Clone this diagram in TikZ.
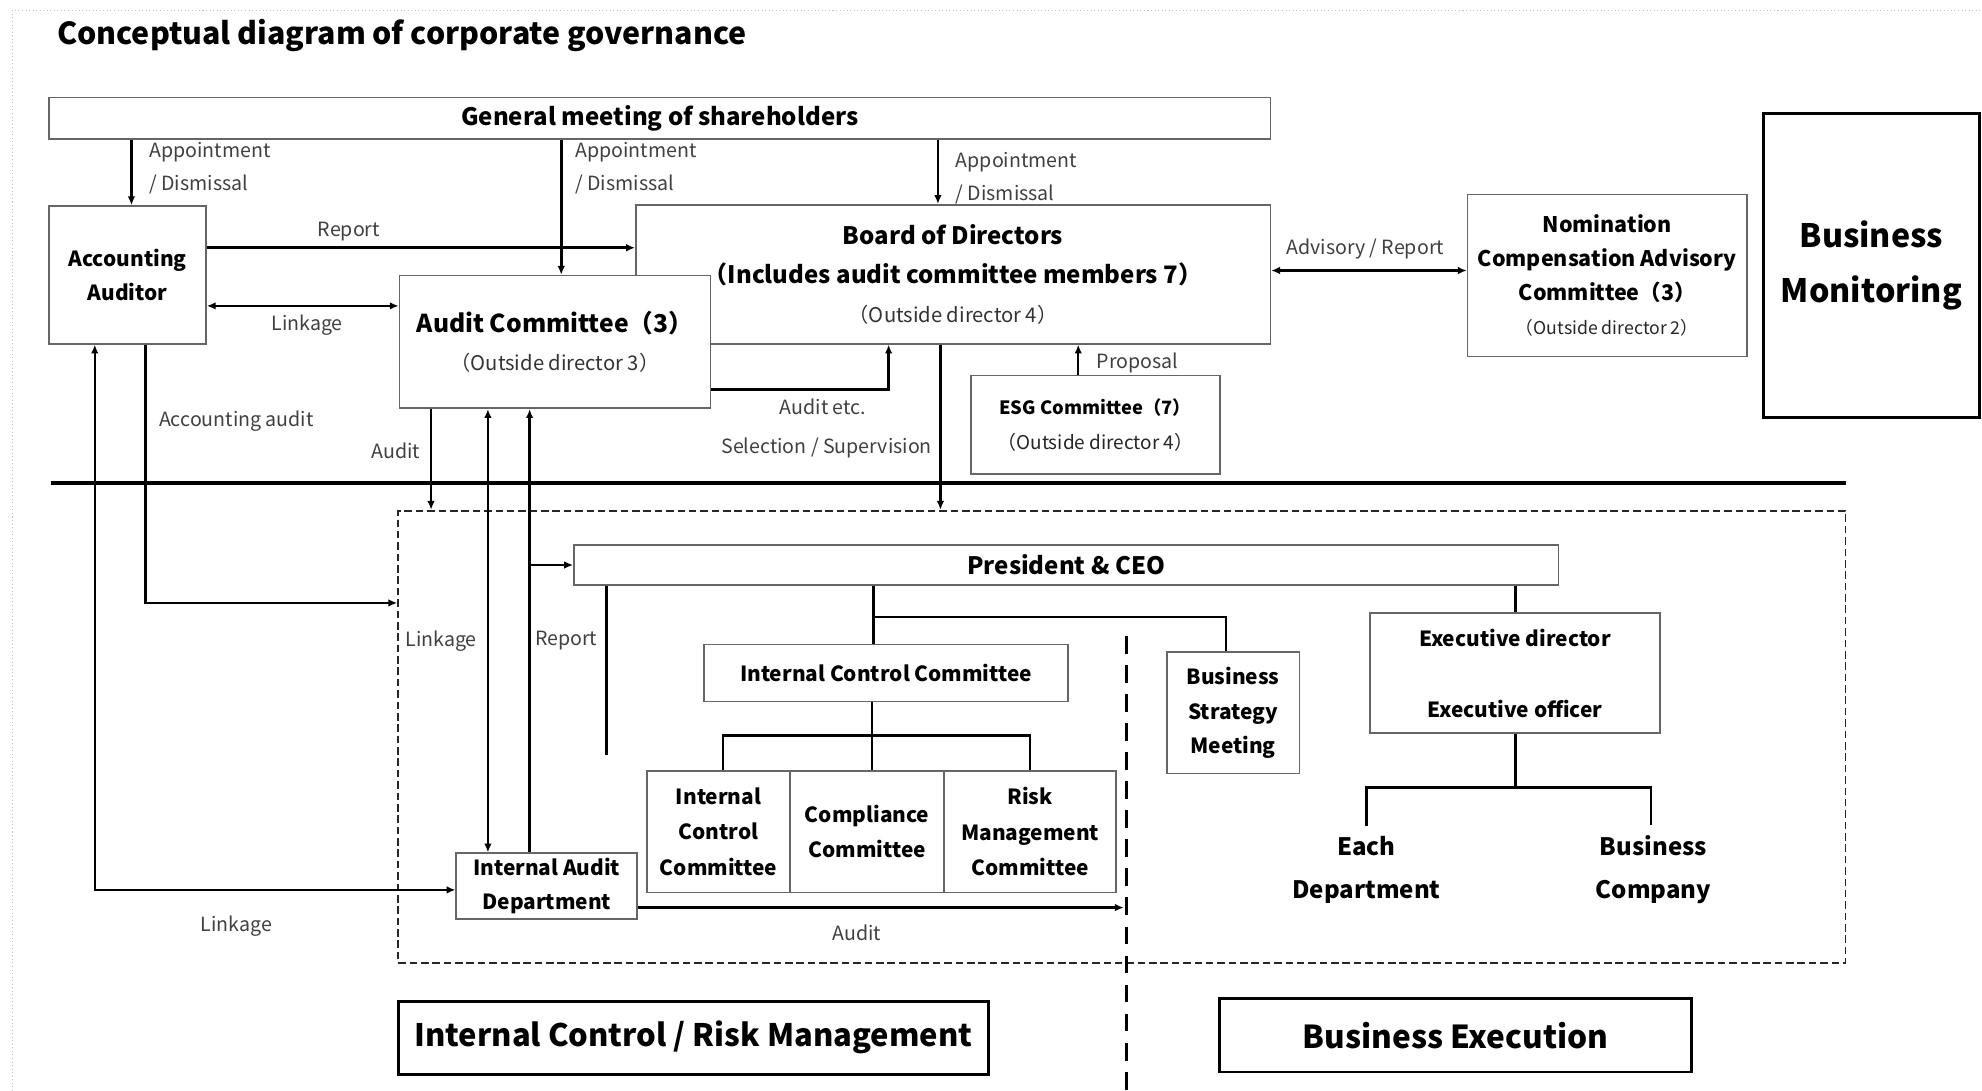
\documentclass[tikz,border=0pt]{standalone}
\usepackage{fontspec}
\setmainfont{Noto Sans CJK JP}
\usetikzlibrary{arrows.meta}
\newcommand{\fs}[2]{\fontsize{#1}{#2}\selectfont}
\tikzset{
  box/.style={draw=black!60, line width=1.3pt, fill=white, inner sep=0pt, align=center, text=black},
  bigbox/.style={draw=black, line width=2.2pt, fill=white, inner sep=0pt, align=center, text=black},
  lbl/.style={text=black!75, font=\fs{15.5}{20}, inner sep=0pt},
  conn/.style={line width=2pt},
  arr/.style={conn, -{Latex[length=7pt,width=6pt]}},
  darr/.style={conn, {Latex[length=7pt,width=6pt]}-{Latex[length=7pt,width=6pt]}},
}
\begin{document}
\begin{tikzpicture}[x=1pt,y=-1pt]
\useasboundingbox (0,0) rectangle (1568,863);
\fill[white] (0,0) rectangle (1568,863);
% faint frame
\draw[black!25, dotted, line width=0.8pt] (10,863) -- (10,8) -- (1568,8);
% column/row coordinates
\foreach \v in {75,104,115,341,386,419,444,480,572,690,691,703,742,744,815,853,970,1081,1199,1306}{\coordinate (x\v) at (\v,0);}
\foreach \v in {196,214,242,308,447,477,488,582,623,704,718}{\coordinate (y\v) at (0,\v);}
% title
\node[anchor=west, font=\fs{24}{30}\bfseries, inner sep=0pt] (title) at (45,28) {Conceptual diagram of corporate governance};
% top nodes
\node[box, minimum width=966, minimum height=33, font=\fs{19}{24}\bfseries] (gm) at (522,93.5) {General meeting of shareholders};
\node[box, minimum width=124, minimum height=109, font=\fs{16.5}{27}\bfseries] (aa) at (101,217.5) {Accounting\\Auditor};
\node[box, minimum width=502, minimum height=110, font=\fs{19}{31}\bfseries] (board) at (754,217) {Board of Directors\\（Includes audit committee members 7）\\{\mdseries\fs{16}{31}\color{black!80}（Outside director 4）}};
\node[box, minimum width=246, minimum height=105, font=\fs{19.5}{30}\bfseries] (ac) at (439,270.5) {Audit Committee（3）\\{\mdseries\fs{16}{30}\color{black!80}（Outside director 3）}};
\node[box, minimum width=197, minimum height=78, font=\fs{14.5}{28}\bfseries] (esg) at (866.5,336) {ESG Committee（7）\\{\mdseries\fs{15}{28}\color{black!85}（Outside director 4）}};
\node[box, minimum width=221, minimum height=128, font=\fs{17}{27}\bfseries] (ncac) at (1271.5,218) {Nomination\\Compensation Advisory\\Committee（3）\\{\mdseries\fs{14}{27}\color{black!85}（Outside director 2）}};
\node[bigbox, minimum width=171, minimum height=240, font=\fs{25.5}{43}\bfseries] (bm) at (1480.5,210) {Business\\Monitoring};
% separator
\coordinate (sepL) at (40,382);
\coordinate (sepR) at (1460,382);
\draw[line width=3.5pt] (sepL) -- (sepR);
% dashed execution area
\node[draw=black!85, line width=1.4pt, dash pattern=on 6pt off 3pt, minimum width=1145, minimum height=358, inner sep=0pt] (dbox) at (887.5,583) {};
% inner nodes
\node[box, minimum width=779, minimum height=32, font=\fs{19}{24}\bfseries] (ceo) at (843.5,447) {President \& CEO};
\node[box, minimum width=288, minimum height=45, font=\fs{16.5}{24}\bfseries] (icc) at (701,532.5) {Internal Control Committee};
\node[box, minimum width=113, minimum height=96, font=\fs{16.5}{28}\bfseries] (c1) at (568.5,658) {Internal\\Control\\Committee};
\node[box, minimum width=122, minimum height=96, font=\fs{16.5}{28}\bfseries] (c2) at (686,658) {Compliance\\Committee};
\node[box, minimum width=136, minimum height=96, font=\fs{16.5}{28}\bfseries] (c3) at (815,658) {Risk\\Management\\Committee};
\node[box, minimum width=143, minimum height=52, font=\fs{16.5}{27}\bfseries] (iad) at (432.5,701) {Internal Audit\\Department};
\node[box, minimum width=105, minimum height=96, font=\fs{16.5}{27.5}\bfseries] (bsm) at (975.5,564) {Business\\Strategy\\Meeting};
\node[box, minimum width=229, minimum height=95, font=\fs{16.5}{56}\bfseries] (exec) at (1198.5,532.5) {Executive director\\Executive officer};
\node[inner sep=0pt, align=center, font=\fs{19}{34}\bfseries] (ed) at (1081,688) {Each\\Department};
\node[inner sep=0pt, align=center, font=\fs{19}{34}\bfseries] (bc) at (1308,688) {Business\\Company};
% dashed divider
\coordinate (dvtop) at (891,503);
\coordinate (dvbot) at (891,863);
\draw[line width=2.6pt, dash pattern=on 14pt off 9pt] (dvtop) -- (dvbot);
% bottom boxes
\node[bigbox, minimum width=467, minimum height=58, font=\fs{24.5}{30}\bfseries] (icrm) at (548.5,821) {Internal Control / Risk Management};
\node[bigbox, minimum width=373, minimum height=58, font=\fs{25}{30}\bfseries] (be) at (1151.5,819) {Business Execution};
% connectors
\draw[arr] (gm.south -| x104) -- (aa.north -| x104);
\draw[arr] (gm.south -| x444) -- (ac.north -| x444);
\draw[arr] (gm.south -| x742) -- (board.north -| x742);
\draw[arr] (aa.east |- y196) -- (board.west |- y196);
\draw[darr] (aa.east |- y242) -- (ac.west |- y242);
\draw[arr] (ac.east |- y308) -| (board.south -| x703);
\draw[arr] (board.south -| x744) -- (dbox.north -| x744);
\draw[arr] (esg.north -| x853) -- (board.south -| x853);
\draw[darr] (board.east |- y214) -- (ncac.west |- y214);
\draw[arr] (ac.south -| x341) -- (dbox.north -| x341);
\draw[darr] (ac.south -| x386) -- (iad.north -| x386);
\draw[arr] (iad.north -| x419) -- (ac.south -| x419);
\draw[arr] (x419 |- ceo.west) -- (ceo.west);
\draw[arr] (aa.south -| x115) |- (dbox.west |- y477);
\draw[darr] (aa.south -| x75) |- (iad.west |- y704);
\coordinate (ceoend) at (480,597);
\draw[conn] (ceo.south -| ceoend) -- (ceoend);
\draw[conn] (ceo.south -| x691) -- (icc.north -| x691);
\draw[conn] (x691 |- y488) -| (bsm.north -| x970);
\draw[conn] (ceo.south -| x1199) -- (exec.north -| x1199);
\draw[conn] (icc.south -| x690) -- (c2.north -| x690);
\draw[conn] (c1.north -| x572) |- (x815 |- y582) -- (c3.north -| x815);
\draw[arr] (iad.east |- y718) -- ([xshift=-2pt]dvtop |- y718);
\draw[conn] (exec.south -| x1199) -- (x1199 |- y623);
\draw[conn] ([yshift=8pt]ed.north) |- (x1306 |- y623) -- ([yshift=8pt]bc.north -| x1306);
% labels
\node[lbl, anchor=west] (l1a) at (118,120) {Appointment};
\node[lbl, anchor=west] (l1b) at (118,146) {/ Dismissal};
\node[lbl, anchor=west] (l2a) at (455,120) {Appointment};
\node[lbl, anchor=west] (l2b) at (455,146) {/ Dismissal};
\node[lbl, anchor=west] (l3a) at (756,128) {Appointment};
\node[lbl, anchor=west] (l3b) at (756,154) {/ Dismissal};
\node[lbl] (lrep) at (276,183) {Report};
\node[lbl] (llink1) at (243,257) {Linkage};
\node[lbl] (lacc) at (187,333) {Accounting audit};
\node[lbl] (laud1) at (313,357) {Audit};
\node[lbl] (laudetc) at (651,322) {Audit etc.};
\node[lbl] (lsel) at (654,354) {Selection / Supervision};
\node[lbl] (lprop) at (900,287) {Proposal};
\node[lbl] (ladv) at (1080,197) {Advisory / Report};
\node[lbl] (llink2) at (349,507) {Linkage};
\node[lbl] (lrep2) at (448,507) {Report};
\node[lbl] (llink3) at (187,733) {Linkage};
\node[lbl] (laud2) at (678,738) {Audit};
\end{tikzpicture}
\end{document}
